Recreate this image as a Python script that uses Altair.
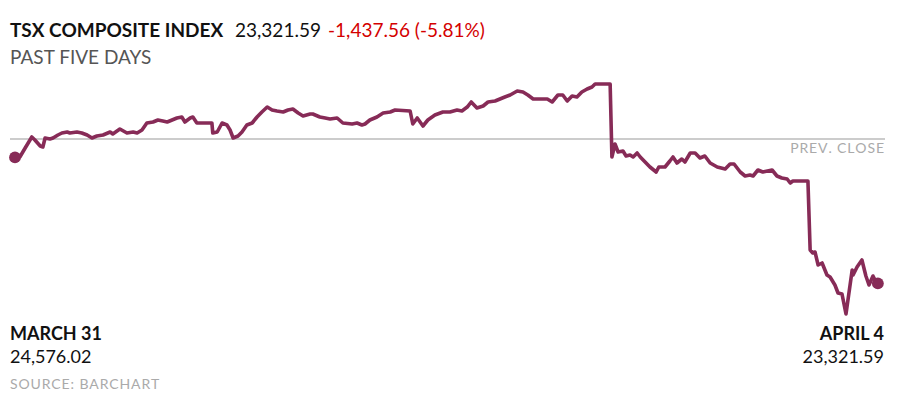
import altair as alt
import pandas as pd

# Trading minutes since Mar 31 open, and index level
minutes = [0, 11, 23, 38, 45, 57, 63, 68, 79, 86, 97, 106, 118, 124, 140, 151, 163, 174, 185, 199,
           215, 221, 237, 253, 267, 276, 287, 298, 312, 323, 334, 344, 355, 366, 377, 384, 396, 402, 411, 445,
           447, 457, 468, 479, 486, 493, 504, 513, 524, 536, 547, 558, 570, 581, 592, 606, 617, 628, 640, 651,
           667, 673, 689, 701, 712, 728, 741, 762, 773, 784, 791, 802, 818, 832, 848, 859, 893, 899, 909, 922,
           933, 949, 967, 983, 999, 1010, 1022, 1031, 1044, 1058, 1069, 1085, 1096, 1107, 1119, 1135, 1148, 1159, 1171, 1187,
           1203, 1214, 1227, 1238, 1248, 1259, 1270, 1281, 1293, 1304, 1311, 1345, 1349, 1356, 1363, 1374, 1381, 1390, 1397, 1406,
           1413, 1424, 1435, 1449, 1455, 1469, 1480, 1487, 1496, 1507, 1514, 1526, 1537, 1548, 1559, 1571, 1587, 1605, 1616, 1625,
           1639, 1650, 1661, 1668, 1679, 1690, 1711, 1722, 1733, 1745, 1752, 1758, 1792, 1797, 1803, 1808, 1815, 1824, 1835, 1842,
           1853, 1860, 1869, 1878, 1892, 1894, 1903, 1914, 1923, 1930, 1939, 1946, 1950]
levels = [24576.02, 24580.0, 24669.5, 24779.1, 24749.2, 24689.5, 24679.5, 24769.1, 24759.2, 24769.1, 24799.0, 24818.9, 24828.8, 24818.9, 24828.8, 24818.9, 24799.0, 24769.1, 24789.0, 24799.0,
          24828.8, 24808.9, 24858.7, 24818.9, 24828.8, 24818.9, 24848.8, 24918.4, 24928.4, 24948.3, 24938.4, 24928.4, 24948.3, 24968.2, 24978.2, 24928.4, 24968.2, 24978.2, 24918.4, 24918.4,
          24818.9, 24828.8, 24918.4, 24898.5, 24848.8, 24769.1, 24789.0, 24828.8, 24898.5, 24918.4, 24978.2, 25028.0, 25077.7, 25047.9, 25037.9, 25028.0, 25047.9, 25057.8, 25018.0, 24988.1,
          25008.1, 25008.1, 24978.2, 24968.2, 24958.3, 24968.2, 24918.4, 24908.5, 24918.4, 24898.5, 24908.5, 24948.3, 24978.2, 25018.0, 25028.0, 25047.9, 25037.9, 24908.5, 24968.2, 24888.6,
          24948.3, 24998.1, 25028.0, 25028.0, 25047.9, 25037.9, 25077.7, 25127.5, 25067.8, 25087.7, 25127.5, 25137.5, 25157.4, 25177.3, 25197.2, 25237.0, 25227.1, 25197.2, 25157.4, 25157.4,
          25157.4, 25127.5, 25197.2, 25197.2, 25137.5, 25187.3, 25177.3, 25227.1, 25256.9, 25276.9, 25306.7, 25306.7, 24580.0, 24709.4, 24629.7, 24639.7, 24589.9, 24599.9, 24580.0, 24619.8,
          24580.0, 24530.2, 24480.4, 24430.6, 24480.4, 24480.4, 24540.1, 24580.0, 24520.2, 24560.0, 24530.2, 24619.8, 24619.8, 24570.0, 24589.9, 24520.2, 24480.4, 24460.5, 24510.2, 24510.2,
          24430.6, 24390.8, 24400.8, 24390.8, 24450.5, 24430.6, 24450.5, 24390.8, 24370.9, 24360.9, 24321.1, 24341.0, 24341.0, 23654.0, 23624.2, 23634.1, 23504.7, 23524.6, 23405.1, 23385.2,
          23305.6, 23225.9, 23216.0, 23016.9, 23454.9, 23405.1, 23484.8, 23554.5, 23395.2, 23305.6, 23395.2, 23335.5, 23321.59]

df = pd.DataFrame({"t": minutes, "v": levels})
ends = df.iloc[[0, -1]]

W, H = 901, 385
FONT = "Lato"
HAIR = "\u200a"

xs = alt.Scale(domain=[-15.8, 2020.4], range=[0, W], nice=False, zero=False)
ys = alt.Scale(domain=[22230.3, 26063.4], range=[H, 0], nice=False, zero=False)

line = alt.Chart(df).mark_line(color="#872b57", strokeWidth=3.6, interpolate="linear", strokeJoin="round").encode(
    x=alt.X("t:Q", scale=xs, axis=None),
    y=alt.Y("v:Q", scale=ys, axis=None),
)
dots = alt.Chart(ends).mark_circle(color="#872b57", opacity=1, size=140).encode(
    x=alt.X("t:Q", scale=xs, axis=None),
    y=alt.Y("v:Q", scale=ys, axis=None),
)

prev = alt.Chart(alt.Data(values=[{}])).mark_rule(color="#cccccc", strokeWidth=2).encode(
    x=alt.value(2), x2=alt.value(877), y=alt.value(131)
)


def spaced(s):
    return HAIR.join(list(s))


def txt(s, x, y, size, color, weight="normal", align="left"):
    return alt.Chart(alt.Data(values=[{}])).mark_text(
        text=s, font=FONT, fontSize=size, color=color, fontWeight=weight,
        align=align, baseline="alphabetic",
    ).encode(x=alt.value(x), y=alt.value(y))


texts = [
    txt("TSX COMPOSITE INDEX", 2, 29, 19, "#111111", "bold"),
    txt("23,321.59", 227, 29, 19, "#111111"),
    txt("-1,437.56 (-5.81%)", 320, 29, 19, "#d40000"),
    txt("PAST FIVE DAYS", 2, 56, 19, "#555555"),
    txt(spaced("PREV. CLOSE"), 876, 145, 14, "#aaaaaa", align="right"),
    txt("MARCH 31", 2, 332, 18, "#111111", "bold"),
    txt("24,576.02", 2, 355, 18, "#111111"),
    txt(spaced("SOURCE: BARCHART"), 2, 381, 14, "#aaaaaa"),
    txt("APRIL 4", 876, 332, 18, "#111111", "bold", align="right"),
    txt("23,321.59", 876, 355, 18, "#111111", align="right"),
]

chart = alt.layer(prev, line, dots, *texts).properties(
    width=W, height=H, autosize=alt.AutoSizeParams(type="none"), padding=0,
    background="white",
).configure_view(stroke=None)

chart.save("out.html", embed_options={"renderer": "svg", "actions": False})
